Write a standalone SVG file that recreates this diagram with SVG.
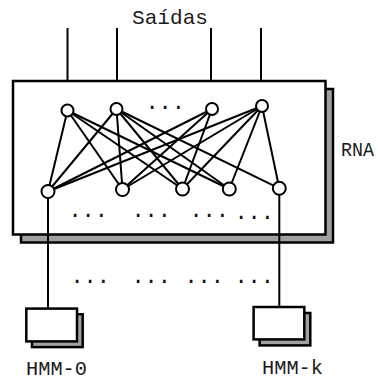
<svg xmlns="http://www.w3.org/2000/svg" width="378" height="381" viewBox="0 0 378 381">
<style>
.t{font-family:"Liberation Mono","Courier New",monospace;font-size:21px;fill:#1a1a1a}
.d{font-family:"Liberation Mono","Courier New",monospace;font-size:22px;fill:#111}
.box{fill:#fff;stroke:#000;stroke-width:2.5}
.sh{fill:#a0a0a0;stroke:#000;stroke-width:2.5}
.n{fill:#fff;stroke:#000;stroke-width:2}
.e{stroke:#000;stroke-width:2;fill:none}
</style>
<rect width="378" height="381" fill="#fff"/>
<g id="rna">
<rect class="sh" x="21" y="89" width="312" height="153.5"/>
<rect class="box" x="13" y="81" width="312.5" height="153.5"/>
<text class="t" x="341" y="156" textLength="33" lengthAdjust="spacingAndGlyphs">RNA</text>
</g>
<g id="outputs-label"><text class="t" x="170" y="24" text-anchor="middle" textLength="76" lengthAdjust="spacingAndGlyphs">Saídas</text></g>
<g id="connectors">
<line class="e" x1="67.5" y1="28" x2="67.5" y2="81"/>
<line class="e" x1="117" y1="28" x2="117" y2="81"/>
<line class="e" x1="211" y1="28" x2="211" y2="81"/>
<line class="e" x1="261" y1="28" x2="261" y2="81"/>
<line class="e" x1="67.5" y1="110.5" x2="48" y2="191.5"/>
<line class="e" x1="67.5" y1="110.5" x2="122.5" y2="189.5"/>
<line class="e" x1="67.5" y1="110.5" x2="182.5" y2="189"/>
<line class="e" x1="67.5" y1="110.5" x2="229.3" y2="189"/>
<line class="e" x1="116.5" y1="109" x2="48" y2="191.5"/>
<line class="e" x1="116.5" y1="109" x2="122.5" y2="189.5"/>
<line class="e" x1="116.5" y1="109" x2="182.5" y2="189"/>
<line class="e" x1="116.5" y1="109" x2="229.3" y2="189"/>
<line class="e" x1="116.5" y1="109" x2="279.3" y2="188.3"/>
<line class="e" x1="212" y1="109" x2="48" y2="191.5"/>
<line class="e" x1="212" y1="109" x2="122.5" y2="189.5"/>
<line class="e" x1="212" y1="109" x2="182.5" y2="189"/>
<line class="e" x1="262" y1="106" x2="48" y2="191.5"/>
<line class="e" x1="262" y1="106" x2="122.5" y2="189.5"/>
<line class="e" x1="262" y1="106" x2="182.5" y2="189"/>
<line class="e" x1="262" y1="106" x2="229.3" y2="189"/>
<line class="e" x1="262" y1="106" x2="279.3" y2="188.3"/>
<line class="e" x1="48" y1="197" x2="48" y2="308"/>
<line class="e" x1="279.3" y1="194.5" x2="279.3" y2="307"/>
</g>
<g id="t1"><circle class="n" cx="67.5" cy="110.5" r="6"/></g>
<g id="t2"><circle class="n" cx="116.5" cy="109" r="6"/></g>
<g id="t3"><circle class="n" cx="212" cy="109" r="6"/></g>
<g id="t4"><circle class="n" cx="262" cy="106" r="6"/></g>
<g id="b1"><circle class="n" cx="48" cy="191.5" r="6.5"/></g>
<g id="b2"><circle class="n" cx="122.5" cy="189.5" r="6.5"/></g>
<g id="b3"><circle class="n" cx="182.5" cy="189" r="6.5"/></g>
<g id="b4"><circle class="n" cx="229.3" cy="189" r="6.5"/></g>
<g id="b5"><circle class="n" cx="279.3" cy="188.3" r="6.5"/></g>
<g id="dots">
<text class="d" x="145.4" y="108.5">...</text>
<text class="d" x="68.4" y="216.5">...</text>
<text class="d" x="131.4" y="216.5">...</text>
<text class="d" x="189.4" y="216.5">...</text>
<text class="d" x="234.4" y="218.5">...</text>
<text class="d" x="70.4" y="282.5">...</text>
<text class="d" x="131.4" y="282.5">...</text>
<text class="d" x="184.4" y="282.5">...</text>
<text class="d" x="234.4" y="282.5">...</text>
</g>
<g id="hmm0">
<rect class="sh" x="32" y="314.3" width="50.7" height="32.8"/>
<rect class="box" x="26.3" y="308.6" width="50.7" height="32.8"/>
<text class="t" x="26" y="375" textLength="61" lengthAdjust="spacingAndGlyphs">HMM-0</text>
</g>
<g id="hmmk">
<rect class="sh" x="259.6" y="313" width="50.7" height="32.4"/>
<rect class="box" x="253.6" y="307" width="50.7" height="32.4"/>
<text class="t" x="262" y="374" textLength="61" lengthAdjust="spacingAndGlyphs">HMM-k</text>
</g>
</svg>
